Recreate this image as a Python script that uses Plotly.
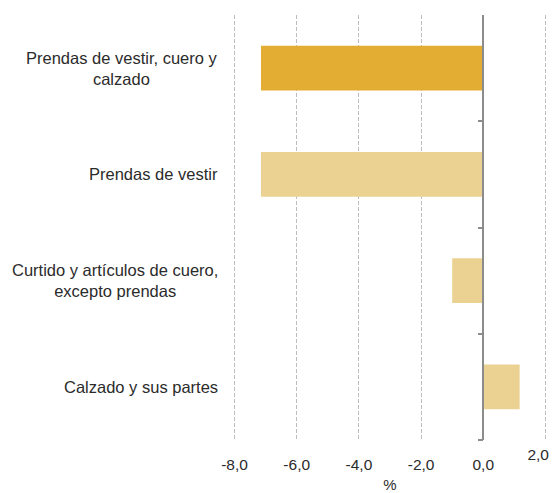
import plotly.graph_objects as go

categories = [
    "Prendas de vestir, cuero y<br>calzado",
    "Prendas de vestir",
    "Curtido y artículos de cuero,<br>excepto prendas",
    "Calzado y sus partes",
]
values = [-7.15, -7.15, -1.0, 1.17]
colors = ["#E3AD33", "#EBD292", "#EBD292", "#EBD292"]
x_ticks = [-8, -6, -4, -2, 0, 2]
x_tick_labels = ["-8,0", "-6,0", "-4,0", "-2,0", "0,0", "2,0"]

# page body has an 8px margin, so figure coordinates = screen - 8
OFF = 8
W, H = 558 - OFF, 493 - OFF
pad = 0.05
xmin, xmax = -8 - pad, 2 + pad
px_per_unit = 31.0
L = (235 - OFF) - pad * px_per_unit
plot_w = (xmax - xmin) * px_per_unit
R = W - L - plot_w
T = 15 - OFF
B = H - (440 - OFF)

n = len(categories)
ypos = list(range(n))

fig = go.Figure()
fig.add_trace(go.Bar(
    x=values, y=ypos, orientation="h",
    marker=dict(color=colors, line=dict(width=0)),
    width=0.42, hoverinfo="skip",
))

font = dict(family="Liberation Sans, Arial, sans-serif", size=16.5, color="#2b2b2b")
tick_font = dict(family=font["family"], size=15.5, color=font["color"])

# last tick label drawn on an overlay axis so it can be end-anchored (fits inside the page)
main_text = x_tick_labels[:-1] + [""]
edge_vals = x_ticks[-1:]
edge_text = x_tick_labels[-1:]

fig.update_layout(
    width=W, height=H,
    margin=dict(l=L, r=R, t=T, b=B, autoexpand=False),
    paper_bgcolor="white", plot_bgcolor="white",
    showlegend=False,
    font=font,
    xaxis=dict(
        range=[xmin, xmax], automargin=False,
        tickvals=x_ticks, ticktext=main_text,
        ticklabeloverflow="allow",
        showgrid=True, gridcolor="#BDBDBD", griddash="4px,2px", gridwidth=1.2,
        zeroline=False, showline=False,
        ticks="outside", ticklen=10, tickcolor="rgba(0,0,0,0)",
        tickfont=tick_font,
        title=dict(text="%", font=dict(family=font["family"], size=15, color=font["color"]), standoff=9),
    ),
    xaxis2=dict(
        overlaying="x", anchor="y", side="bottom",
        range=[xmin, xmax], automargin=False,
        tickvals=edge_vals, ticktext=edge_text,
        ticklabelposition="outside left", ticklabelshift=4,
        ticklabeloverflow="allow",
        showgrid=False, zeroline=False, showline=False,
        ticks="outside", ticklen=20, tickcolor="rgba(0,0,0,0)",
        tickfont=tick_font,
    ),
    yaxis=dict(
        range=[n - 0.5, -0.5], automargin=False,
        showticklabels=False, showgrid=False, zeroline=False,
        showline=False, ticks="",
    ),
    yaxis2=dict(
        overlaying="y", anchor="free", automargin=False,
        position=(0 - xmin) / (xmax - xmin),
        side="left",
        range=[n - 0.5, -0.5],
        tickvals=[i + 0.5 for i in range(n)],
        showticklabels=False, showgrid=False, zeroline=False,
        showline=True, linecolor="#8C8C8C", linewidth=1.5,
        ticks="outside", ticklen=5, tickcolor="#8C8C8C", tickwidth=1.5,
    ),
)
fig.add_trace(go.Scatter(x=[0], y=[0], yaxis="y2", mode="markers",
                         marker=dict(opacity=0), hoverinfo="skip"))
fig.add_trace(go.Scatter(x=[0], y=[0], xaxis="x2", mode="markers",
                         marker=dict(opacity=0), hoverinfo="skip"))

for i, c in enumerate(categories):
    fig.add_annotation(
        text=c, xref="paper", yref="y", x=((220 - OFF) - L) / plot_w, y=i,
        xanchor="right", yanchor="middle", align="center",
        showarrow=False, font=font,
    )

fig.write_html("out.html")
